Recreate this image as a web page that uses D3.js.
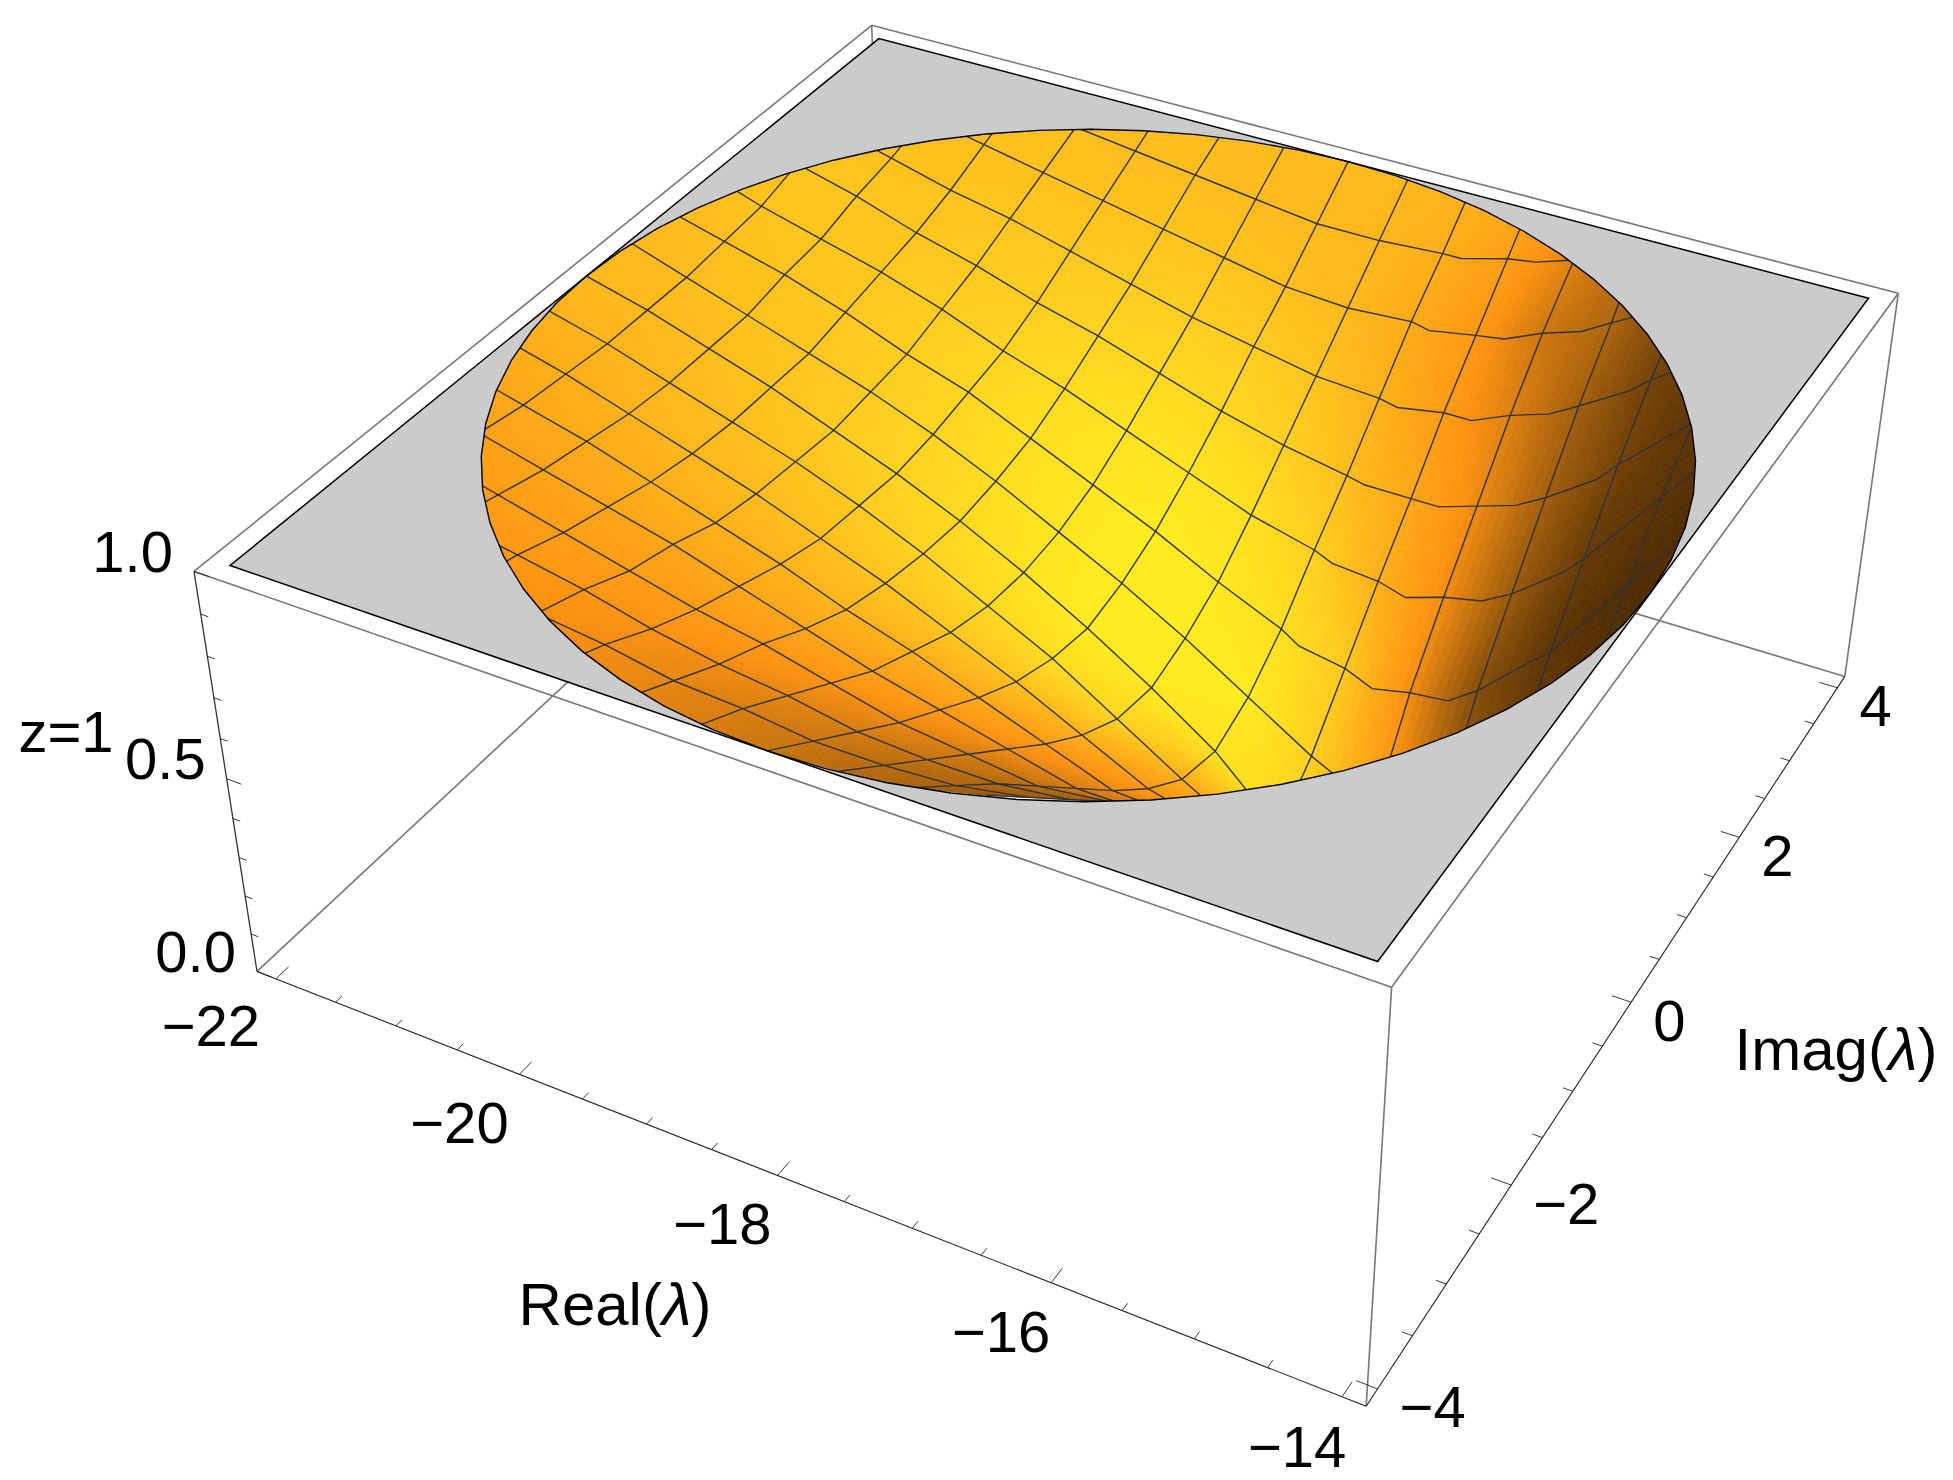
<!DOCTYPE html>
<html><head><meta charset="utf-8"><style>html,body{margin:0;background:#fff}svg{display:block}</style>
<script src="https://cdnjs.cloudflare.com/ajax/libs/d3/7.8.5/d3.min.js"></script></head><body><div id="c"></div>
<script>
const W=1953,H=1480;
const realTicks=d3.range(-22,-13.9,0.5), imagTicks=d3.range(-4,4.1,0.5), zTicks=d3.range(0,1.01,0.1);
const realLabels=[-22,-20,-18,-16,-14], imagLabels=[-4,-2,0,2,4], zLabels=[0,.5,1];
const meshReal=d3.range(-22,-13.9,0.5), meshImag=d3.range(4,-4.1,-0.5);
const _=null;
const zGrid=[
[_,1.09,1.08,1.06,1.05,1.03,1.01,1.01,1.00,1.01,1.03,1.07,1.11,1.22,1.32,1.38,_],
[1.09,1.07,1.05,1.03,1.00,.98,.96,.94,.92,.92,.93,.96,1.00,1.10,1.18,1.25,1.29],
[1.08,1.05,1.02,.99,.96,.93,.90,.87,.84,.83,.84,.85,.90,.97,1.06,1.15,1.22],
[1.06,1.03,.99,.95,.92,.88,.84,.80,.77,.74,.73,.74,.78,.85,.96,1.07,1.18],
[1.04,1.01,.97,.92,.88,.83,.79,.74,.69,.65,.62,.61,.64,.71,.84,.99,1.16],
[1.03,.98,.94,.90,.85,.79,.74,.68,.62,.56,.52,.49,.50,.56,.70,.90,1.09],
[1.01,.97,.93,.88,.82,.77,.70,.63,.56,.48,.41,.36,.35,.41,.56,.78,.99],
[1.01,.96,.91,.86,.81,.75,.68,.60,.52,.43,.33,.23,.15,.20,.38,.66,.90],
[1.00,.96,.91,.86,.80,.74,.67,.59,.50,.40,.29,.14,.02,.12,.30,.55,.80],
[1.00,.96,.91,.86,.81,.75,.68,.60,.52,.42,.32,.23,_,_,_,_,_],
[1.01,.97,.92,.87,.82,.76,.70,.63,.56,.48,.40,.36,_,_,_,_,_],
[1.02,.98,.94,.89,.84,.79,.73,.68,.62,.56,.50,.49,_,_,_,_,_],
[1.04,1.00,.96,.92,.88,.83,.78,.73,.69,.65,.61,.61,_,_,_,_,_],
[1.06,1.03,.99,.95,.91,.87,.84,.80,.76,.74,.72,.74,_,_,_,_,_],
[1.09,1.05,1.02,.99,.96,.92,.89,.87,.84,.83,.83,.85,_,_,_,_,_],
[1.10,1.07,1.05,1.02,1.00,.98,.95,.94,.92,.92,.93,.96,_,_,_,_,_],
[_,1.09,1.08,1.06,1.04,1.03,1.01,1.00,1.00,1.01,1.03,1.07,_,_,_,_,_]];
// extra samples along the crease on the right wall
const ridgeReal=[-16.857,-16.286,-15.714,-15.143], ridgeImag=[3.5,3,2.5,2,1.5,1];
const ridgeZ=[[.93,.97,_,_],[.83,.86,.93,_],[.72,.74,.81,.92],[.61,.61,.67,.79],[.50,.47,.52,.65],[.38,.33,.36,.52]];
const shadeGrid=[
[.76,.76,.76,.76,.77,.77,.76,.75,.75,.74,.72,.68,.58,.5,.3,.2,.2],
[.76,.76,.76,.76,.77,.76,.76,.75,.75,.73,.69,.6,.48,.38,.22,.15,.1],
[.76,.76,.77,.77,.78,.78,.79,.79,.77,.74,.67,.57,.43,.36,.22,.15,.1],
[.77,.78,.78,.79,.8,.81,.83,.84,.83,.79,.71,.59,.47,.33,.2,.14,.1],
[.78,.79,.8,.8,.82,.84,.87,.89,.89,.85,.76,.65,.51,.33,.2,.13,.08],
[.77,.79,.8,.81,.83,.87,.91,.95,.96,.93,.85,.7,.52,.31,.16,.12,.07],
[.75,.77,.79,.81,.84,.88,.93,.97,1,.98,.93,.82,.52,.25,.13,.06,.05],
[.74,.76,.78,.8,.83,.87,.92,.97,1,1,1,.85,.6,.3,.15,.07,.05],
[.74,.74,.76,.79,.82,.86,.9,.95,1,.98,.95,.9,.6,.3,.15,.07,.05],
[.71,.72,.74,.76,.79,.82,.86,.89,.92,.87,.68,.6,.5,.3,.15,.07,.05],
[.68,.69,.71,.73,.75,.77,.79,.8,.78,.7,.57,.5,.4,.3,.15,.07,.05],
[.65,.66,.67,.69,.7,.71,.72,.7,.66,.58,.5,.45,.4,.3,.2,.1,.05],
[.62,.62,.63,.64,.65,.65,.64,.61,.57,.52,.45,.4,.35,.3,.2,.1,.05],
[.6,.6,.6,.6,.6,.59,.57,.54,.5,.45,.4,.36,.3,.3,.2,.1,.05],
[.58,.58,.58,.57,.56,.54,.52,.49,.45,.41,.37,.33,.3,.3,.2,.1,.05],
[.56,.56,.55,.54,.53,.52,.49,.46,.42,.38,.35,.32,.28,.28,.2,.1,.05],
[.56,.56,.55,.54,.53,.52,.49,.46,.42,.38,.35,.32,.28,.28,.2,.1,.05]];
const cal={L:[194,571.4],B:[871.7,25.3],R:[1898.3,293.3],F:[1391.6,987.3],Lb:[257,971.4],Fb:[1366.7,1405]};
function sq2q(p0,p1,p2,p3){const [x0,y0]=p0,[x1,y1]=p1,[x2,y2]=p2,[x3,y3]=p3;
 const dx1=x1-x2,dx2=x3-x2,sx=x0-x1+x2-x3,dy1=y1-y2,dy2=y3-y2,sy=y0-y1+y2-y3;
 const den=dx1*dy2-dx2*dy1,g=(sx*dy2-dx2*sy)/den,h=(dx1*sy-sx*dy1)/den;
 return {a:[x1-x0+g*x1,y1-y0+g*y1,g],b:[x3-x0+h*x3,y3-y0+h*y3,h],c:[x0,y0,1]};}
const Ht=sq2q(cal.L,cal.F,cal.R,cal.B);
const dxl=cal.Lb[0]-cal.Fb[0],dyl=cal.Lb[1]-cal.Fb[1];
const tx=(cal.Fb[0]*Ht.a[2]-Ht.a[0])/dxl,ty=(cal.Fb[1]*Ht.a[2]-Ht.a[1])/dyl;
const t=(tx*dxl*dxl+ty*dyl*dyl)/(dxl*dxl+dyl*dyl);
const p0=[t*cal.Lb[0],t*cal.Lb[1],t];
const D=[0,1,2].map(i=>Ht.c[i]-p0[i]);
const su=d3.scaleLinear().domain([-22.16,-13.84]).range([0,1]),sv=d3.scaleLinear().domain([-4.16,4.16]).range([0,1]),sw=d3.scaleLinear().domain([0,1]).range([0,1]);
function homog(x,y,z){const u=su(x),v=sv(y),w=sw(z);return [0,1,2].map(i=>Ht.a[i]*u+Ht.b[i]*v+p0[i]+w*D[i]);}
function proj(x,y,z){const h=homog(x,y,z);return [h[0]/h[2],h[1]/h[2]];}
const shade=d3.scaleLinear().domain([0,.15,.3,.42,.55,.7,.85,1]).range(["#452603","#633806","#96580c","#c87410","#ff9412","#ffb01a","#ffd020","#ffec20"]);
const svg=d3.select("#c").append("svg").attr("width",W).attr("height",H).attr("viewBox",`0 0 ${W} ${H}`);
const line=d3.line();
const boxX=[-22.16,-13.84],boxY=[-4.16,4.16];
function seg(g,a,b,cls){g.append("path").attr("d",line([proj(...a),proj(...b)])).attr("fill","none").attr("stroke",cls[0]).attr("stroke-width",cls[1]);}
const gray=["#777",1.6],blk=["#222",1.1];
const back=svg.append("g");
seg(back,[boxX[0],boxY[0],0],[boxX[0],boxY[1],0],gray);seg(back,[boxX[0],boxY[1],0],[boxX[1],boxY[1],0],gray);seg(back,[boxX[0],boxY[1],0],[boxX[0],boxY[1],1],gray);
const surf=svg.append("g").attr("clip-path","url(#rim)");
const rimPts=d3.range(0,64).map(i=>{const a=i/64*2*Math.PI;return proj(-18+4*Math.cos(a),4*Math.sin(a),1);});
svg.append("clipPath").attr("id","rim").append("path").attr("d",line(rimPts)+"Z");
const N=8,quads=[];
for(let j=0;j<16;j++)for(let i=0;i<16;i++){
 const c=[[i,j],[i+1,j],[i+1,j+1],[i,j+1]];
 if(c.some(([a,b])=>zGrid[b][a]===null))continue;
 if(d3.min(c,([a,b])=>Math.hypot(meshReal[a]+18,meshImag[b]))>4.05)continue;
 const val=(G,s,r)=>(G[j][i]*(1-s)+G[j][i+1]*s)*(1-r)+(G[j+1][i]*(1-s)+G[j+1][i+1]*s)*r;
 for(let r=0;r<N;r++)for(let s=0;s<N;s++){
  const pt=(ss,rr)=>[meshReal[i]+.5*ss/N,meshImag[j]-.5*rr/N,val(zGrid,ss/N,rr/N)];
  const ps=[pt(s,r),pt(s+1,r),pt(s+1,r+1),pt(s,r+1)];
  const cc=ps.reduce((a,p)=>a+homog(...p)[2],0);
  quads.push({d:line(ps.map(p=>proj(...p)))+"Z",w:cc,col:shade(val(shadeGrid,(s+.5)/N,(r+.5)/N))});
 }}
quads.sort((a,b)=>d3.descending(Math.abs(a.w),Math.abs(b.w)));
surf.selectAll("path.q").data(quads).join("path").attr("class","q").attr("d",d=>d.d).attr("fill",d=>d.col).attr("stroke",d=>d.col).attr("stroke-width",.7);
const mesh=surf.append("g").attr("fill","none").attr("stroke","#30333a").attr("stroke-width",1.4);
meshImag.forEach((y,j)=>{if(j==0||j==16)return;const v=[];meshReal.forEach((x,i)=>{if(zGrid[j][i]!==null)v.push([x,zGrid[j][i]]);});
 const rj=ridgeImag.indexOf(y);if(rj>=0)ridgeReal.forEach((x,i)=>{if(ridgeZ[rj][i]!==null)v.push([x,ridgeZ[rj][i]]);});
 v.sort((a,b)=>a[0]-b[0]);mesh.append("path").attr("d",line(v.map(d=>proj(d[0],y,d[1]))));});
meshReal.forEach((x,i)=>{if(i==0||i==16)return;const p=[];meshImag.forEach((y,j)=>{if(zGrid[j][i]!==null)p.push(proj(x,y,zGrid[j][i]));});mesh.append("path").attr("d",line(p));});
const pc=[[-22,-4],[-14,-4],[-14,4],[-22,4]].map(([x,y])=>proj(x,y,1));
svg.append("path").attr("d",line(pc)+"Z"+line(rimPts)+"Z").attr("fill","#cbcbcb").attr("fill-rule","evenodd").attr("stroke","none");
svg.append("path").attr("d",line(pc)+"Z").attr("fill","none").attr("stroke","#000").attr("stroke-width",1.5);
svg.append("path").attr("d",line(rimPts)+"Z").attr("fill","none").attr("stroke","#000").attr("stroke-width",1.4);
const fr=svg.append("g");
[[0,0],[1,0],[1,1],[0,1]].forEach((c,i,arr)=>{const d=arr[(i+1)%4];seg(fr,[boxX[c[0]],boxY[c[1]],1],[boxX[d[0]],boxY[d[1]],1],gray);});
seg(fr,[boxX[1],boxY[0],0],[boxX[1],boxY[0],1],gray);seg(fr,[boxX[1],boxY[1],0],[boxX[1],boxY[1],1],gray);
seg(fr,[boxX[0],boxY[0],0],[boxX[0],boxY[0],1],["#333",1.3]);
seg(fr,[boxX[0],boxY[0],0],[boxX[1],boxY[0],0],blk);seg(fr,[boxX[1],boxY[0],0],[boxX[1],boxY[1],0],blk);
realTicks.forEach((x,i)=>seg(fr,[x,boxY[0],0],[x,boxY[0]+(i%4==0?.14:.07),0],["#222",.9]));
imagTicks.forEach((y,i)=>seg(fr,[boxX[1],y,0],[boxX[1]-(i%4==0?.14:.07),y,0],["#222",.9]));
zTicks.forEach((z,i)=>seg(fr,[boxX[0],boxY[0],z],[boxX[0]+(i%5==0?.12:.06),boxY[0],z],["#222",.9]));
const font="'Liberation Sans',Arial,sans-serif",FS=58,um="\u2212";
const T=svg.append("g").attr("font-family",font).attr("font-size",FS).attr("fill","#000");
const fmt=v=>(v<0?um:"")+Math.abs(v);
const dxR=d3.scaleLinear().domain([-22,-14]).range([-65,-45]),dyR=d3.scaleLinear().domain([-22,-14]).range([47,50]);
realLabels.forEach(v=>{const p=proj(v,boxY[0],0);T.append("text").attr("x",p[0]+dxR(v)).attr("y",p[1]+dyR(v)).attr("text-anchor","middle").attr("dominant-baseline","central").text(fmt(v));});
imagLabels.forEach(v=>{const p=proj(boxX[1],v,0);T.append("text").attr("x",p[0]+22).attr("y",p[1]+18).attr("dominant-baseline","central").text(fmt(v));});
zLabels.forEach(v=>{const p=proj(boxX[0],boxY[0],v);T.append("text").attr("x",p[0]-21).attr("y",p[1]-20).attr("text-anchor","end").attr("dominant-baseline","central").text(v.toFixed(1));});
T.append("text").attr("x",66).attr("y",731).attr("text-anchor","middle").attr("dominant-baseline","central").text("z=1");
const lab=(x,y,a)=>{const t=T.append("text").attr("x",x).attr("y",y).attr("font-size",60).attr("text-anchor","middle").attr("dominant-baseline","central");t.append("tspan").text(a+"(");t.append("tspan").attr("font-style","italic").text("\u03bb");t.append("tspan").text(")");};
lab(615,1304,"Real");lab(1836,1049,"Imag");
</script></body></html>
